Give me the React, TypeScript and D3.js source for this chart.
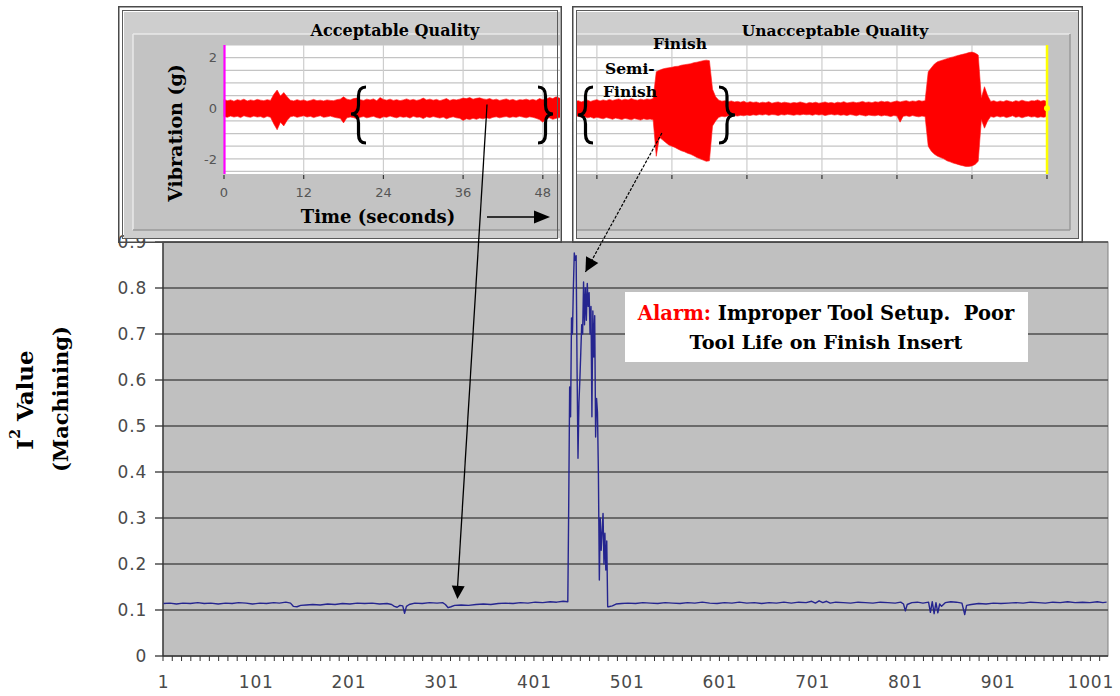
import React from 'react';
import * as d3 from 'd3';

// ---------- main chart data ----------
const Y_TICKS = [0, 0.1, 0.2, 0.3, 0.4, 0.5, 0.6, 0.7, 0.8, 0.9];
const X_LABELS = [1, 101, 201, 301, 401, 501, 601, 701, 801, 901, 1001];
const N_CATEGORIES = 1019;

const I2_BEFORE: [number, number][] = [
  [1, 0.114], [8, 0.115], [15, 0.113], [22, 0.115], [30, 0.114], [38, 0.116], [45, 0.114], [52, 0.115],
  [60, 0.113], [68, 0.115], [75, 0.114], [82, 0.116], [90, 0.115], [97, 0.113], [105, 0.115], [112, 0.114],
  [120, 0.116], [126, 0.115], [133, 0.117], [138, 0.115], [141, 0.108], [145, 0.107], [149, 0.11], [155, 0.111],
  [162, 0.112], [170, 0.111], [178, 0.113], [186, 0.112], [194, 0.114], [202, 0.113], [210, 0.115], [218, 0.114],
  [226, 0.115], [234, 0.113], [242, 0.114], [247, 0.112], [250, 0.108], [253, 0.106], [256, 0.11], [259, 0.109],
  [261, 0.093], [263, 0.108], [266, 0.112], [272, 0.115], [280, 0.114], [288, 0.116], [296, 0.115], [302, 0.116],
  [305, 0.112], [308, 0.105], [311, 0.107], [315, 0.11], [322, 0.111], [330, 0.11], [338, 0.112], [346, 0.113],
  [354, 0.112], [362, 0.114], [370, 0.115], [378, 0.114], [386, 0.116], [394, 0.115], [402, 0.117], [410, 0.116],
  [418, 0.118], [425, 0.117], [432, 0.119], [437, 0.118],
];
const I2_PEAK: [number, number][] = [
  [438, 0.33], [439, 0.585], [440, 0.52], [441, 0.735], [442, 0.7], [443, 0.8], [444, 0.876], [445, 0.86],
  [446, 0.87], [447, 0.62], [448, 0.43], [449, 0.55], [450, 0.6], [451, 0.66], [452, 0.72], [453, 0.7],
  [454, 0.813], [455, 0.72], [456, 0.8], [457, 0.73], [458, 0.81], [459, 0.76], [460, 0.79], [461, 0.7],
  [462, 0.76], [463, 0.52], [464, 0.75], [465, 0.65], [466, 0.74], [467, 0.476], [468, 0.56], [469, 0.53],
  [470, 0.397], [471, 0.165], [472, 0.3], [473, 0.23], [474, 0.27], [475, 0.31], [476, 0.2], [477, 0.267],
  [478, 0.187], [479, 0.25], [480, 0.107],
];
const I2_AFTER: [number, number][] = [
  [481, 0.107], [485, 0.109], [489, 0.113], [495, 0.114], [502, 0.115], [510, 0.114], [518, 0.116], [526, 0.115],
  [534, 0.114], [542, 0.116], [550, 0.115], [558, 0.114], [566, 0.116], [574, 0.115], [582, 0.117], [590, 0.115],
  [598, 0.114], [606, 0.116], [614, 0.115], [622, 0.117], [630, 0.115], [638, 0.116], [646, 0.114], [654, 0.116],
  [662, 0.115], [670, 0.117], [678, 0.115], [686, 0.117], [694, 0.116], [700, 0.119], [704, 0.115], [708, 0.12],
  [712, 0.116], [716, 0.119], [720, 0.115], [726, 0.117], [734, 0.116], [742, 0.115], [750, 0.117], [758, 0.116],
  [766, 0.115], [774, 0.117], [782, 0.116], [790, 0.115], [796, 0.117], [799, 0.113], [801, 0.098], [803, 0.112],
  [808, 0.116], [814, 0.117], [820, 0.115], [826, 0.117], [828, 0.095], [830, 0.118], [832, 0.092], [834, 0.116],
  [836, 0.094], [838, 0.113], [840, 0.108], [844, 0.116], [850, 0.118], [856, 0.117], [862, 0.115], [865, 0.09],
  [867, 0.11], [872, 0.112], [880, 0.114], [888, 0.113], [896, 0.115], [904, 0.114], [912, 0.115], [920, 0.116],
  [928, 0.115], [936, 0.117], [944, 0.116], [952, 0.115], [960, 0.117], [968, 0.116], [976, 0.118], [984, 0.116],
  [992, 0.117], [1000, 0.116], [1008, 0.118], [1014, 0.116], [1018, 0.117],
];

// ---------- inset (vibration) data ----------
const INSET_Y_GRID = [-2.5, -2, -1.5, -1, -0.5, 0, 0.5, 1, 1.5, 2, 2.5];
const INSET_Y_LABELS = [2, 0, -2];
const LEFT_X_TICKS = [0, 12, 24, 36, 48];
const RIGHT_X_TICKS = [0, 12, 24, 36, 48, 60, 72];
const SAMPLE_STEP = 0.5;

const LEFT_T_START = 0;
const LEFT_UPPER = [
  0.35, 0.3, 0.33, 0.28, 0.34, 0.31, 0.36, 0.29, 0.33, 0.3, 0.35, 0.32, 0.3, 0.34, 0.31,
  0.55, 0.72, 0.48, 0.62, 0.45,
  0.32, 0.29, 0.34, 0.3, 0.33, 0.28, 0.31, 0.35, 0.3, 0.32, 0.29, 0.33, 0.31, 0.3, 0.34, 0.36,
  0.45, 0.36, 0.33, 0.38, 0.4,
  0.34, 0.31, 0.36, 0.33, 0.37, 0.3, 0.42, 0.35, 0.32, 0.36, 0.31, 0.34, 0.3, 0.33, 0.37, 0.32,
  0.35, 0.31, 0.34, 0.4, 0.33, 0.36, 0.32, 0.35, 0.3, 0.34, 0.38, 0.31, 0.35, 0.33, 0.36,
  0.4, 0.38, 0.42, 0.36, 0.39, 0.41, 0.37, 0.35, 0.38,
  0.33, 0.36, 0.31, 0.34, 0.37, 0.32, 0.35, 0.3, 0.34, 0.33, 0.36, 0.32, 0.35, 0.31, 0.38, 0.34,
  0.36, 0.42, 0.38, 0.45, 0.4, 0.37,
];
const LEFT_LOWER = [
  -0.33, -0.36, -0.31, -0.35, -0.32, -0.37, -0.3, -0.34, -0.36, -0.31, -0.35, -0.33, -0.38, -0.32, -0.36,
  -0.62, -0.85, -0.55, -0.7, -0.48,
  -0.34, -0.31, -0.36, -0.33, -0.3, -0.35, -0.32, -0.37, -0.33, -0.3, -0.36, -0.34, -0.31, -0.35, -0.38, -0.4,
  -0.58, -0.38, -0.35, -0.37, -0.42,
  -0.36, -0.33, -0.38, -0.35, -0.32, -0.37, -0.4, -0.34, -0.36, -0.31, -0.35, -0.38, -0.33, -0.36, -0.34, -0.39,
  -0.32, -0.36, -0.35, -0.41, -0.34, -0.37, -0.33, -0.36, -0.39, -0.35, -0.42, -0.37, -0.34, -0.38, -0.4,
  -0.48, -0.42, -0.45, -0.4, -0.44, -0.39, -0.42, -0.38, -0.41,
  -0.36, -0.34, -0.38, -0.35, -0.33, -0.37, -0.34, -0.36, -0.32, -0.35, -0.38, -0.34, -0.36, -0.4, -0.45, -0.55,
  -0.42, -0.38, -0.44, -0.4, -0.37, -0.41,
];

const RIGHT_T_START = -3.5;
const RIGHT_UPPER = [
  0.26, 0.3, 0.25, 0.29, 0.32, 0.27, 0.31, 0.34, 0.29, 0.33, 0.3, 0.35, 0.31, 0.34, 0.37, 0.32, 0.36, 0.33, 0.38, 0.34,
  0.32, 0.36, 0.33, 0.37, 0.35, 0.38,
  1.44, 1.5, 1.55, 1.58, 1.6, 1.62, 1.65, 1.66, 1.7, 1.72, 1.74, 1.76, 1.8, 1.82, 1.85, 1.88, 1.9, 1.88,
  0.75, 0.45,
  0.32, 0.28, 0.3, 0.26, 0.29, 0.25, 0.27, 0.24, 0.28, 0.22, 0.26, 0.23, 0.25, 0.21, 0.24, 0.22, 0.26, 0.2, 0.23, 0.25,
  0.21, 0.24, 0.22, 0.2, 0.23, 0.21, 0.25, 0.22, 0.19, 0.23, 0.21, 0.24, 0.2, 0.22, 0.25, 0.21, 0.23, 0.2, 0.24, 0.22,
  0.26, 0.21, 0.23, 0.25, 0.22, 0.24, 0.27, 0.23, 0.25, 0.22, 0.26, 0.24, 0.28, 0.25, 0.27, 0.23, 0.26, 0.29, 0.25, 0.28,
  0.3, 0.26, 0.29, 0.27, 0.31, 0.28, 0.3,
  1.44, 1.6, 1.75, 1.84, 1.88, 1.92, 1.96, 2.0, 2.03, 2.07, 2.1, 2.13, 2.16, 2.2, 2.22, 2.18, 2.1,
  0.4, 0.85, 0.5,
  0.27, 0.3, 0.25, 0.29, 0.26, 0.31, 0.28, 0.25, 0.3, 0.27, 0.32, 0.28, 0.26, 0.3, 0.29, 0.33, 0.28, 0.31, 0.27,
];
const RIGHT_LOWER = [
  -0.34, -0.31, -0.36, -0.33, -0.38, -0.35, -0.4, -0.36, -0.39, -0.42, -0.37, -0.4, -0.44, -0.39, -0.42, -0.45, -0.4,
  -0.43, -0.46, -0.41, -0.44, -0.47, -0.42, -0.45, -0.43, -0.46,
  -1.9, -1.15, -1.25, -1.35, -1.45, -1.5, -1.55, -1.62, -1.68, -1.72, -1.78, -1.82, -1.88, -1.95, -2.0, -2.05, -2.1, -2.08,
  -0.7, -0.5,
  -0.36, -0.32, -0.34, -0.3, -0.33, -0.29, -0.31, -0.28, -0.3, -0.27, -0.29, -0.26, -0.28, -0.25, -0.27, -0.24, -0.28,
  -0.25, -0.26, -0.29, -0.25, -0.27, -0.24, -0.26, -0.28, -0.25, -0.27, -0.24, -0.26, -0.25, -0.28, -0.24, -0.27, -0.25,
  -0.29, -0.26, -0.24, -0.27, -0.25, -0.28, -0.26, -0.29, -0.25, -0.27, -0.3, -0.26, -0.28, -0.31, -0.27, -0.29, -0.3,
  -0.27, -0.31, -0.28, -0.3, -0.33, -0.29, -0.31, -0.55, -0.32, -0.3, -0.33, -0.29, -0.32, -0.34, -0.31, -0.33,
  -1.5, -1.7, -1.82, -1.9, -1.95, -2.0, -2.08, -2.12, -2.17, -2.2, -2.24, -2.27, -2.3, -2.3, -2.28, -2.22, -2.1,
  -0.45, -0.79, -0.5,
  -0.33, -0.36, -0.31, -0.35, -0.32, -0.37, -0.34, -0.3, -0.36, -0.33, -0.38, -0.34, -0.31, -0.35, -0.33, -0.37, -0.34,
  -0.36, -0.32,
];

const SERIF = "'DejaVu Serif', serif";
const SANS = "'DejaVu Sans', sans-serif";

function arrowHead(x1: number, y1: number, x2: number, y2: number, len: number, half: number) {
  const dx = x2 - x1, dy = y2 - y1;
  const d = Math.hypot(dx, dy);
  const ux = dx / d, uy = dy / d;
  const bx = x2 - ux * len, by = y2 - uy * len;
  return `M${x2},${y2} L${bx - uy * half},${by + ux * half} L${bx + uy * half},${by - ux * half} Z`;
}

function bracePath(tipX: number, tipY: number, y0: number, y1: number, w: number, dir: number) {
  const bx = tipX + dir * w * 0.5;
  const ex = tipX + dir * w;
  return `M${ex},${y0} Q${bx},${y0} ${bx},${y0 + 9} L${bx},${tipY - 9} Q${bx},${tipY} ${tipX},${tipY} ` +
    `Q${bx},${tipY} ${bx},${tipY + 9} L${bx},${y1 - 9} Q${bx},${y1} ${ex},${y1}`;
}

export default function App() {
  // main chart scales
  const x = d3.scaleLinear().domain([0.5, N_CATEGORIES + 0.5]).range([163, 1108]);
  const y = d3.scaleLinear().domain([0, 0.9]).range([656, 242]);
  const series = [...I2_BEFORE, ...I2_PEAK, ...I2_AFTER];
  const linePath = d3.line<[number, number]>().x(d => x(d[0])).y(d => y(d[1]))(series) || '';
  const minorTicks = d3.range(0, N_CATEGORIES + 1, 10).map(k => k + 0.5);

  // inset scales
  const iy = d3.scaleLinear().domain([-2.6, 2.5]).range([174, 45]);
  const lx = d3.scaleLinear().domain([0, 51]).range([224, 224 + 51 * 6.642]);
  const rx = d3.scaleLinear().domain([-3.5, 72]).range([575, 1047]);
  const band = (up: number[], lo: number[], t0: number, sx: d3.ScaleLinear<number, number>) =>
    d3.area<number>()
      .x((_, i) => sx(t0 + i * SAMPLE_STEP))
      .y0((_, i) => iy(lo[i]))
      .y1(d => iy(d))(up) || '';
  const leftBand = band(LEFT_UPPER, LEFT_LOWER, LEFT_T_START, lx);
  const rightBand = band(RIGHT_UPPER, RIGHT_LOWER, RIGHT_T_START, rx);

  // arrows (annotation): start in inset, tip on main chart data
  const a1 = { x1: lx(39.6), y1: iy(0.15), x2: x(318), y2: y(0.124) };
  const a2 = { x1: rx(10.4), y1: iy(-0.98), x2: x(456), y2: y(0.835) };

  const insetFrame = (bx0: number, bx1: number, panelX0: number, panelX1: number) => (
    <g>
      <rect x={bx0} y={6} width={bx1 - bx0} height={237} fill="#cecece" />
      <rect x={panelX0} y={34} width={panelX1 - panelX0} height={196} fill="#c3c3c3" />
      <line x1={panelX0} x2={panelX1} y1={34} y2={34} stroke="#e8e8e8" strokeWidth={1.5} />
      <line x1={panelX0} x2={panelX0} y1={34} y2={230} stroke="#e8e8e8" strokeWidth={1.5} />
      <line x1={panelX0} x2={panelX1} y1={230} y2={230} stroke="#9a9a9a" strokeWidth={1.5} />
      <line x1={panelX1} x2={panelX1} y1={34} y2={230} stroke="#9a9a9a" strokeWidth={1.5} />
    </g>
  );
  const insetBorder = (bx0: number, bx1: number) => (
    <g fill="none">
      <rect x={bx0 + 0.75} y={6.75} width={bx1 - bx0 - 1.5} height={235.5} stroke="#4a4a4a" strokeWidth={1.5} />
      <rect x={bx0 + 4.5} y={10.5} width={bx1 - bx0 - 9} height={228} stroke="#5a5a5a" strokeWidth={1} />
    </g>
  );

  return (
    <svg width={1120} height={696} style={{ position: 'absolute', left: 0, top: 0, background: '#fff' }}>
      <defs>
        <clipPath id="leftClip"><rect x={124} y={12} width={436} height={226} /></clipPath>
        <clipPath id="rightClip"><rect x={576} y={12} width={502} height={226} /></clipPath>
      </defs>
      <rect x={0} y={0} width={1120} height={696} fill="#ffffff" />

      {/* ---------- main chart ---------- */}
      <rect x={163} y={242} width={945} height={414} fill="#c0c0c0" stroke="#808080" strokeWidth={1} />
      {Y_TICKS.filter(v => v > 0).map(v => (
        <line key={v} x1={163} x2={1108} y1={y(v)} y2={y(v)} stroke="#4e4e4e" strokeWidth={1.6} />
      ))}
      <line x1={163} x2={163} y1={242} y2={656} stroke="#333" strokeWidth={1.3} />
      <line x1={163} x2={1108} y1={656} y2={656} stroke="#333" strokeWidth={1.3} />
      {Y_TICKS.map(v => (
        <g key={v}>
          <line x1={155} x2={163} y1={y(v)} y2={y(v)} stroke="#333" strokeWidth={1.3} />
          <text x={147} y={y(v)} dy="0.36em" textAnchor="end" fontFamily={SANS} fontSize={17}
            fill="#4a4a4a" letterSpacing={0.8}>{v === 0 ? '0' : v.toFixed(1)}</text>
        </g>
      ))}
      {minorTicks.map(t => (
        <line key={t} x1={x(t)} x2={x(t)} y1={656} y2={661} stroke="#333" strokeWidth={1} />
      ))}
      {X_LABELS.map(v => (
        <text key={v} x={x(v)} y={688} textAnchor="middle" fontFamily={SANS} fontSize={17}
          fill="#4a4a4a" letterSpacing={0.8}>{v}</text>
      ))}
      <path d={linePath} fill="none" stroke="#25258f" strokeWidth={1.4} strokeLinejoin="round" />

      <text transform="translate(24,400) rotate(-90)" textAnchor="middle" dominantBaseline="central"
        fontFamily={SERIF} fontWeight="bold" fontSize={23}>
        I<tspan fontSize={14} dy={-9}>2</tspan><tspan dy={9}> Value</tspan>
      </text>
      <text transform="translate(60,399) rotate(-90)" textAnchor="middle" dominantBaseline="central"
        fontFamily={SERIF} fontWeight="bold" fontSize={21}>(Machining)</text>

      {/* ---------- left inset: Acceptable Quality ---------- */}
      <g clipPath="url(#leftClip)">
        {insetFrame(118, 562, 133, 600)}
        <rect x={224} y={45} width={340} height={129} fill="#fff" />
        {INSET_Y_GRID.map(v => (
          <line key={v} x1={224} x2={564} y1={iy(v)} y2={iy(v)} stroke="#c4c4c4" strokeWidth={1.2} />
        ))}
        {LEFT_X_TICKS.filter(t => t > 0).map(t => (
          <line key={t} x1={lx(t)} x2={lx(t)} y1={45} y2={174} stroke="#cdcdcd" strokeWidth={1.2} />
        ))}
        {LEFT_X_TICKS.map(t => (
          <g key={t}>
            <line x1={lx(t)} x2={lx(t)} y1={175} y2={179} stroke="#333" strokeWidth={1.2} />
            <text x={lx(t)} y={197} textAnchor="middle" fontFamily={SANS} fontSize={13} fill="#555">{t}</text>
          </g>
        ))}
        {INSET_Y_LABELS.map(v => (
          <text key={v} x={217} y={iy(v)} dy="0.36em" textAnchor="end" fontFamily={SANS} fontSize={13}
            fill="#555">{v}</text>
        ))}
        <path d={leftBand} fill="#ff0000" stroke="#ff1a1a" strokeWidth={0.6} />
        <line x1={224.5} x2={224.5} y1={45} y2={174} stroke="#ff00ff" strokeWidth={2.2} />
        <text x={395} y={36} textAnchor="middle" fontFamily={SERIF} fontWeight="bold" fontSize={16}>Acceptable Quality</text>
        <text transform="translate(175,133) rotate(-90)" textAnchor="middle" dominantBaseline="central"
          fontFamily={SERIF} fontWeight="bold" fontSize={19}>Vibration (g)</text>
        <text x={378} y={223} textAnchor="middle" fontFamily={SERIF} fontWeight="bold" fontSize={18}>Time (seconds)</text>
        <line x1={487} x2={536} y1={217} y2={217} stroke="#000" strokeWidth={1.5} />
        <path d={arrowHead(487, 217, 550, 217, 16, 6.5)} fill="#000" />
        <path d={bracePath(351, 114, 87, 143, 15, 1)} fill="none" stroke="#000" strokeWidth={3.2} />
        <path d={bracePath(553, 114, 87, 143, 15, -1)} fill="none" stroke="#000" strokeWidth={3.2} />
      </g>
      {insetBorder(118, 562)}

      {/* ---------- right inset: Unacceptable Quality ---------- */}
      <g clipPath="url(#rightClip)">
        {insetFrame(572, 1083, 560, 1070)}
        <rect x={575} y={45} width={472} height={129} fill="#fff" />
        {INSET_Y_GRID.map(v => (
          <line key={v} x1={575} x2={1047} y1={iy(v)} y2={iy(v)} stroke="#c4c4c4" strokeWidth={1.2} />
        ))}
        {RIGHT_X_TICKS.filter(t => t < 72).map(t => (
          <line key={t} x1={rx(t)} x2={rx(t)} y1={45} y2={174} stroke="#cdcdcd" strokeWidth={1.2} />
        ))}
        {RIGHT_X_TICKS.map(t => (
          <line key={t} x1={rx(t)} x2={rx(t)} y1={175} y2={179} stroke="#333" strokeWidth={1.2} />
        ))}
        <path d={rightBand} fill="#ff0000" stroke="#ff1a1a" strokeWidth={0.6} />
        <line x1={1047} x2={1047} y1={45} y2={174} stroke="#ffff00" strokeWidth={2.5} />
        <circle cx={1047} cy={iy(0)} r={3} fill="#ffff00" />
        <text x={835} y={36} textAnchor="middle" fontFamily={SERIF} fontWeight="bold" fontSize={15.5}>Unacceptable Quality</text>
        <text x={680} y={49} textAnchor="middle" fontFamily={SERIF} fontWeight="bold" fontSize={15.5}>Finish</text>
        <text x={605} y={74} fontFamily={SERIF} fontWeight="bold" fontSize={15.5}>Semi-</text>
        <text x={603} y={97} fontFamily={SERIF} fontWeight="bold" fontSize={15.5}>Finish</text>
        <path d={bracePath(578, 115, 87, 143, 15, 1)} fill="none" stroke="#000" strokeWidth={3.2} />
        <path d={bracePath(735, 115, 87, 143, 16, -1)} fill="none" stroke="#000" strokeWidth={3.2} />
      </g>
      {insetBorder(572, 1083)}

      {/* ---------- alarm box ---------- */}
      <rect x={625} y={292} width={403} height={70} fill="#fff" />
      <text x={826} y={320} textAnchor="middle" fontFamily={SERIF} fontWeight="bold" fontSize={19.5}
        style={{ whiteSpace: 'pre' }}>
        <tspan fill="#ff0000">Alarm:</tspan><tspan fill="#000">{' Improper Tool Setup.  Poor'}</tspan>
      </text>
      <text x={826} y={349} textAnchor="middle" fontFamily={SERIF} fontWeight="bold" fontSize={19.3}
        fill="#000">Tool Life on Finish Insert</text>

      {/* ---------- arrows ---------- */}
      <line x1={a1.x1} y1={a1.y1} x2={a1.x2} y2={a1.y2 - 10} stroke="#000" strokeWidth={1.3} />
      <path d={arrowHead(a1.x1, a1.y1, a1.x2, a1.y2, 13, 6.5)} fill="#000" />
      <line x1={a2.x1} y1={a2.y1} x2={a2.x2} y2={a2.y2} stroke="#000" strokeWidth={1.2} strokeDasharray="3,1.5" />
      <path d={arrowHead(a2.x1, a2.y1, a2.x2, a2.y2, 14, 7)} fill="#000" />
    </svg>
  );
}
